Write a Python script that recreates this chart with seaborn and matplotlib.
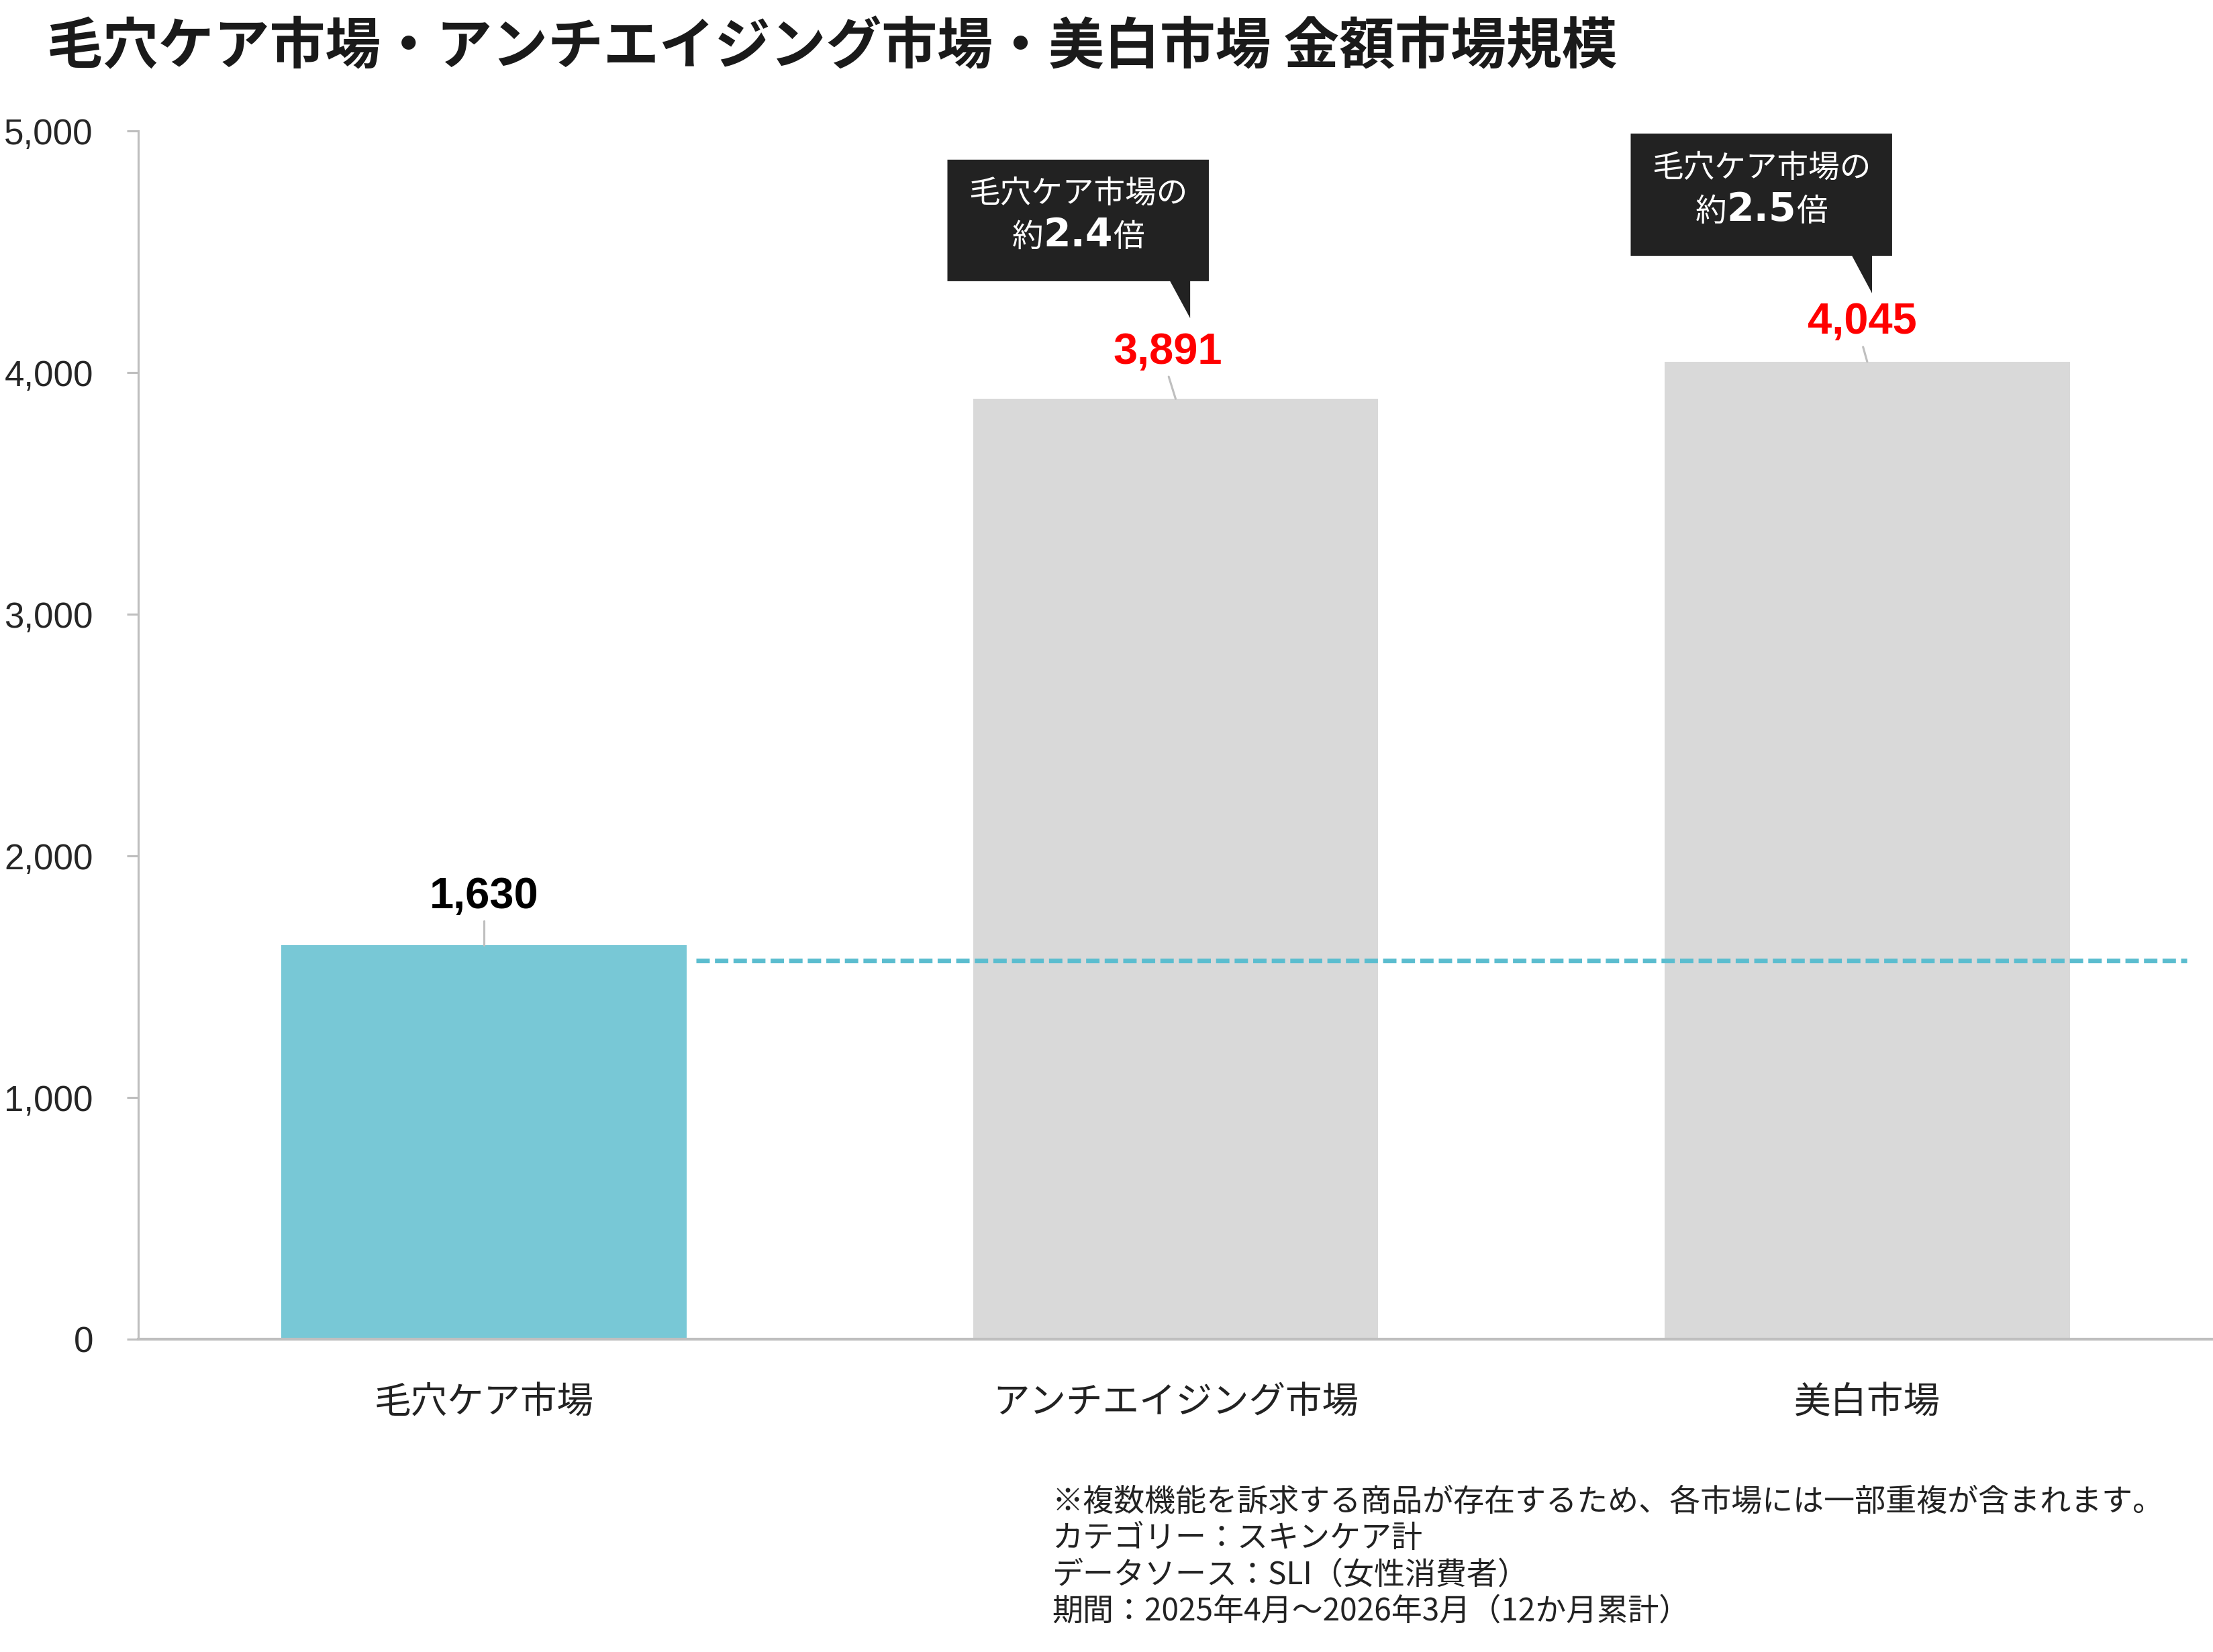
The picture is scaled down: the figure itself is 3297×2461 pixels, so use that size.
import matplotlib
matplotlib.use('Agg')
import matplotlib.pyplot as plt
from matplotlib.patches import Polygon
from matplotlib.ticker import FuncFormatter
import seaborn as sns
import pandas as pd

# ---- data ----
markets = ['毛穴ケア市場', 'アンチエイジング市場', '美白市場']
sales = [1630, 3891, 4045]
yticks = [0, 1000, 2000, 3000, 4000, 5000]
pore_level = 1567  # dashed guide line carried over from the pore-care bar
callout_bars = [1, 2]
callout_ratio = ['2.4', '2.5']
callout_head = '毛穴ケア市場の'
title = '毛穴ケア市場・アンチエイジング市場・美白市場 金額市場規模'
notes = ['※複数機能を訴求する商品が存在するため、各市場には一部重複が含まれます。',
         'カテゴリー：スキンケア計',
         'データソース：SLI（女性消費者）',
         '期間：2025年4月～2026年3月（12か月累計）']

# ---- styling / layout ----
bar_colors = ['#78C8D6', '#D9D9D9', '#D9D9D9']
label_colors = ['#000000', '#FF0000', '#FF0000']
grey = '#BFBFBF'
label_lift = [153, 145, 116]      # label baseline above bar top (data units)
label_dx = [0, -0.011, -0.007]
leader_top = [101, 92, 61]
leader_dx = [0, -0.010, -0.006]
box_x = [(-0.330, 0.048), (-0.342, 0.036)]
tail_x = [(-0.008, 0.021), (-0.022, 0.007)]
box_y = [(487, 990, 334), (438, 944, 283)]  # bottom, top, tip above bar value

W, H, DPI = 3297, 2461, 300

sns.set_theme(style='white')
plt.rcParams['font.family'] = ['Noto Sans CJK JP', 'DejaVu Sans']

fig = plt.figure(figsize=(W / DPI, H / DPI), dpi=DPI)
ax = fig.add_axes([206 / W, 1 - 1995 / H, 1 - 206 / W, (1995 - 195) / H])

df = pd.DataFrame({'market': markets, 'sales': sales})
sns.barplot(data=df, x='market', y='sales', hue='market', palette=bar_colors,
            legend=False, width=0.586, saturation=1, linewidth=0, ax=ax, zorder=2)

ax.set_xlim(-0.5, 2.5)
ax.set_ylim(0, 5000)
ax.set_yticks(yticks)
ax.yaxis.set_major_formatter(FuncFormatter(lambda v, p: f'{v:,.0f}'))
ax.set_xlabel('')
ax.set_ylabel('')
ax.tick_params(axis='y', length=4.1, width=0.75, color=grey, pad=12,
               labelsize=12.7, labelcolor='#262626', left=True)
ax.tick_params(axis='x', length=0, pad=15.9, labelsize=13.1, labelcolor='#222222')
for lbl in ax.get_yticklabels():
    lbl.set_fontfamily('Liberation Sans')
for s in ['top', 'right']:
    ax.spines[s].set_visible(False)
ax.spines['left'].set_color(grey)
ax.spines['left'].set_linewidth(0.75)
ax.spines['bottom'].set_color(grey)
ax.spines['bottom'].set_linewidth(1.0)

# dashed guide at the pore-care level
ax.plot([0.307, 2.462], [pore_level, pore_level], color='#5BBDCF', lw=1.68,
        dashes=(2.85, 1.1), zorder=3)

# value labels with short leader lines
for i, v in enumerate(sales):
    ax.plot([i, i + leader_dx[i]], [v, v + leader_top[i]], color=grey, lw=0.75, zorder=3)
    ax.text(i + label_dx[i], v + label_lift[i], f'{v:,}', ha='center', va='baseline',
            fontsize=15.6, fontweight='bold', family='Liberation Sans',
            color=label_colors[i], zorder=5)

# speech-bubble callouts
ratio_texts = []
for k, i in enumerate(callout_bars):
    v = sales[i]
    bx0, bx1 = box_x[k]
    tl, tr = tail_x[k]
    yb, yt, ytip = box_y[k]
    verts = [(i + bx0, v + yb), (i + tl, v + yb), (i + tr, v + ytip), (i + tr, v + yb),
             (i + bx1, v + yb), (i + bx1, v + yt), (i + bx0, v + yt)]
    ax.add_patch(Polygon(verts, closed=True, facecolor='#222222', edgecolor='none', zorder=4))
    cx = i + (bx0 + bx1) / 2
    ax.text(cx, v + yb + 325, callout_head, ha='center', va='baseline', color='white',
            fontsize=11.2, zorder=5)
    t = ax.text(cx, v + yb + 144, callout_ratio[k], ha='center', va='baseline', color='white',
                fontsize=14, fontweight='bold', family='DejaVu Sans', zorder=5)
    ratio_texts.append((t, v + yb + 144))

fig.canvas.draw()
renderer = fig.canvas.get_renderer()
inv = ax.transData.inverted()
for t, y in ratio_texts:
    bb = t.get_window_extent(renderer)
    x0 = inv.transform((bb.x0, bb.y0))[0]
    x1 = inv.transform((bb.x1, bb.y0))[0]
    ax.text(x0, y, '約', ha='right', va='baseline', color='white', fontsize=11.2, zorder=5)
    ax.text(x1, y, '倍', ha='left', va='baseline', color='white', fontsize=11.2, zorder=5)

# title and footnotes
fig.text(70 / W, 1 - 95 / H, title, ha='left', va='baseline', fontsize=19.9,
         fontweight='bold', color='#1A1A1A')
for n, line in enumerate(notes):
    fig.text(1567 / W, 1 - (2251 + 54.3 * n) / H, line, ha='left', va='baseline',
             fontsize=11.05, color='#222222')

fig.savefig('out.png', dpi=DPI, facecolor='white')
